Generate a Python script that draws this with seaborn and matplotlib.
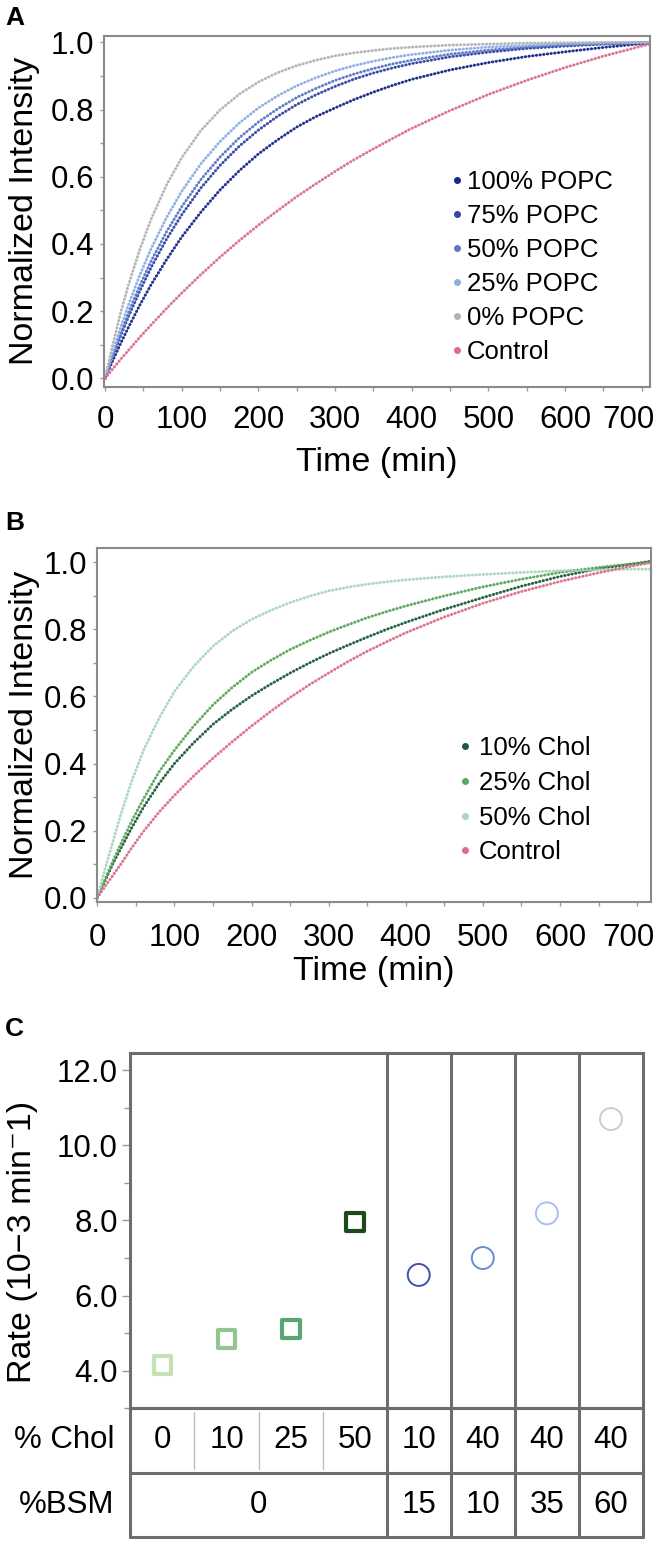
import matplotlib
matplotlib.use("Agg")
import matplotlib.pyplot as plt
import seaborn as sns
import pandas as pd
from matplotlib.lines import Line2D
from matplotlib.ticker import MultipleLocator, FormatStrFormatter, FuncFormatter

# ---- data ----
time_min = [0, 10, 20, 30, 45, 60, 80, 100, 125, 150, 175, 200, 225, 250, 275, 300,
            325, 350, 375, 400, 450, 500, 550, 600, 650, 700, 720]

# panel A: POPC series
popc_labels = ["100% POPC", "75% POPC", "50% POPC", "25% POPC", "0% POPC", "Control"]
popc_100 = [0, .053, .103, .150, .217, .279, .353, .421, .495, .561, .618, .668, .710, .748,
            .779, .805, .830, .852, .872, .890, .918, .940, .958, .972, .985, .996, 1.0]
popc_75 = [0, .064, .125, .181, .259, .330, .414, .487, .567, .634, .691, .739, .780, .815,
           .844, .869, .891, .909, .924, .937, .957, .971, .982, .989, .995, .999, 1.0]
popc_50 = [0, .069, .133, .193, .275, .349, .436, .511, .592, .659, .716, .763, .802, .836,
           .863, .887, .906, .922, .936, .947, .965, .977, .986, .992, .996, .999, 1.0]
popc_25 = [0, .078, .150, .216, .306, .386, .478, .557, .639, .705, .760, .805, .841, .871,
           .895, .915, .931, .944, .955, .964, .977, .986, .991, .995, .998, 1.0, 1.0]
popc_0 = [0, .101, .193, .275, .382, .474, .575, .657, .738, .799, .846, .882, .910, .931,
          .947, .960, .969, .976, .982, .986, .992, .995, .998, .999, 1.0, 1.0, 1.0]
control_a = [0, .028, .056, .082, .122, .159, .208, .254, .309, .361, .410, .456, .499, .541,
             .579, .616, .651, .683, .714, .744, .797, .845, .887, .925, .959, .989, 1.0]
popc_colors = ["#18278a", "#3346a6", "#5a78c6", "#8eaee6", "#b4b4b4", "#dc6f8c"]

# panel B: cholesterol series
chol_series_labels = ["10% Chol", "25% Chol", "50% Chol", "Control"]
chol_10 = [0, .050, .100, .145, .210, .270, .340, .400, .462, .517, .562, .602, .637, .670,
           .700, .728, .753, .777, .800, .821, .860, .895, .929, .958, .981, .997, 1.004]
chol_25 = [0, .055, .108, .158, .230, .295, .375, .440, .512, .575, .627, .672, .708, .740,
           .767, .792, .814, .835, .853, .870, .900, .927, .950, .970, .985, .997, 1.003]
chol_50 = [0, .085, .165, .245, .350, .440, .535, .615, .690, .750, .795, .830, .857, .880,
           .899, .915, .926, .935, .942, .948, .957, .964, .970, .975, .978, .980, .980]
control_b = [0, .033, .066, .098, .150, .198, .255, .305, .363, .416, .465, .512, .556, .597,
             .635, .670, .704, .735, .763, .790, .837, .878, .913, .943, .969, .992, 1.0]
chol_colors = ["#1f5b3b", "#5ea65c", "#a9d6c1", "#dc6f8c"]

# panel C: rates
rate_values = [4.16, 4.84, 5.11, 7.95, 6.55, 7.0, 8.19, 10.7]
chol_pct = ["0", "10", "25", "50", "10", "40", "40", "40"]
bsm_pct = ["0", "15", "10", "35", "60"]
bsm_pos = [1.5, 4, 5, 6, 7]
rate_colors = ["#c6e2b5", "#92c592", "#5aa673", "#1d4a1d",
               "#3f50b0", "#6b8bd8", "#a8c2f0", "#cccccc"]

# ---- style ----
sns.set_theme(style="ticks")
plt.rcParams["font.family"] = ["Liberation Sans", "DejaVu Sans"]
plt.rcParams.update({"text.color": "black", "axes.labelcolor": "black",
                     "xtick.labelcolor": "black", "ytick.labelcolor": "black"})
TICK = 22.5
LAB = 24.5
LEG = 18.5
SPINE = "#8a8a8a"
BOX = "#6d6d6d"

fig = plt.figure(figsize=(6.64, 15.5), dpi=100)


def long_df(series, labels):
    rows = []
    for lab, ys in zip(labels, series):
        for t, y in zip(time_min, ys):
            rows.append((t, y, lab))
    return pd.DataFrame(rows, columns=["Time", "Intensity", "Sample"])


def curve_panel(ax, df, labels, colors, xlim, ylim, xpad, last_shift):
    pal = dict(zip(labels, colors))
    sns.lineplot(data=df, x="Time", y="Intensity", hue="Sample", hue_order=labels,
                 palette=pal, ax=ax, legend=False, linewidth=0.9, alpha=0.4,
                 estimator=None)
    n0 = len(ax.lines)
    sns.lineplot(data=df, x="Time", y="Intensity", hue="Sample", hue_order=labels,
                 palette=pal, ax=ax, legend=False, linewidth=2.2, estimator=None)
    for ln in ax.lines[n0:]:
        ln.set_linestyle((0, (0.01, 1.2)))
        ln.set_dash_capstyle("round")
        ln.set_alpha(0.95)
    ax.set_xlim(*xlim)
    ax.set_ylim(*ylim)
    ax.xaxis.set_major_locator(MultipleLocator(100))
    ax.xaxis.set_minor_locator(MultipleLocator(50))
    # the last label (700) is nudged left in the original, drawn separately below
    ax.xaxis.set_major_formatter(FuncFormatter(lambda v, p: "" if v >= 700 else "%d" % v))
    ax.yaxis.set_major_locator(MultipleLocator(0.2))
    ax.yaxis.set_minor_locator(MultipleLocator(0.1))
    ax.yaxis.set_major_formatter(FormatStrFormatter("%.1f"))
    ax.tick_params(which="both", direction="out", length=3, width=1, color="#999999",
                   labelsize=TICK)
    ax.tick_params(axis="x", which="major", pad=xpad)
    ax.tick_params(axis="y", which="major", pad=4)
    ax.annotate("700", xy=(700, 0), xycoords=("data", "axes fraction"),
                xytext=(last_shift, -(3 + xpad)), textcoords="offset points",
                ha="center", va="top", fontsize=TICK)
    for s in ax.spines.values():
        s.set_color(SPINE)
        s.set_linewidth(1.5)
    ax.set_xlabel("Time (min)", fontsize=LAB)
    ax.set_ylabel("Normalized Intensity", fontsize=LAB)


# ---- panel A ----
axA = fig.add_axes([104 / 664, 1 - 386.7 / 1550, 546 / 664, 351 / 1550])
dfA = long_df([popc_100, popc_75, popc_50, popc_25, popc_0, control_a], popc_labels)
curve_panel(axA, dfA, popc_labels, popc_colors, (-1.5, 711), (-0.025, 1.02), 10, -9.5)
axA.xaxis.set_label_coords(0.5, -0.171)
axA.yaxis.set_label_coords(-0.117, 0.5)
handlesA = [Line2D([0], [0], marker="o", ls="", color=c, markersize=4) for c in popc_colors]
axA.legend(handlesA, popc_labels, loc="upper left", bbox_to_anchor=(0.637, 0.618),
           frameon=False, fontsize=LEG, handlelength=0.4, handletextpad=0.2,
           labelspacing=0.39, borderpad=0, borderaxespad=0)

# ---- panel B ----
axB = fig.add_axes([96.7 / 664, 1 - 902 / 1550, 554.3 / 664, 353.7 / 1550])
dfB = long_df([chol_10, chol_25, chol_50, control_b], chol_series_labels)
curve_panel(axB, dfB, chol_series_labels, chol_colors, (-0.8, 718), (-0.013, 1.042), 12, -6)
axB.xaxis.set_label_coords(0.5, -0.152)
axB.yaxis.set_label_coords(-0.102, 0.5)
handlesB = [Line2D([0], [0], marker="o", ls="", color=c, markersize=4) for c in chol_colors]
axB.legend(handlesB, chol_series_labels, loc="upper left", bbox_to_anchor=(0.655, 0.469),
           frameon=False, fontsize=LEG, handlelength=0.4, handletextpad=0.35,
           labelspacing=0.42, borderpad=0, borderaxespad=0)

# ---- panel C ----
axC = fig.add_axes([130.4 / 664, 1 - 1408.3 / 1550, 512.6 / 664, 355 / 1550])
keys = ["r%d" % i for i in range(len(rate_values))]
dfC = pd.DataFrame({"pos": list(range(len(rate_values))), "rate": rate_values, "key": keys})
palC = dict(zip(keys, rate_colors))
sns.scatterplot(data=dfC.iloc[:4], x="pos", y="rate", hue="key", palette=palC,
                marker="s", s=165, ax=axC, legend=False)
sq = axC.collections[-1]
sns.scatterplot(data=dfC.iloc[4:], x="pos", y="rate", hue="key", palette=palC,
                marker="o", s=250, ax=axC, legend=False)
ci = axC.collections[-1]
for coll, lw in ((sq, 3.0), (ci, 1.4)):
    fc = coll.get_facecolors()
    coll.set_edgecolors(fc)
    coll.set_facecolors("none")
    coll.set_linewidths(lw)

axC.set_xlim(-0.5, 7.5)
axC.set_ylim(3.0, 12.45)
axC.set_xticks([])
axC.yaxis.set_major_locator(MultipleLocator(2))
axC.yaxis.set_minor_locator(MultipleLocator(1))
axC.yaxis.set_major_formatter(FormatStrFormatter("%.1f"))
axC.tick_params(axis="y", which="major", length=6, width=1, color="#999999",
                labelsize=TICK, pad=3)
axC.tick_params(axis="y", which="minor", length=4, width=1, color="#999999")
axC.set_xlabel("")
axC.set_ylabel("Rate (10\u22123 min\u207b1)", fontsize=LAB)
axC.yaxis.set_label_coords(-0.18, 0.47)
for s in axC.spines.values():
    s.set_color(BOX)
    s.set_linewidth(2.2)
for xv in [3.5, 4.5, 5.5, 6.5]:
    axC.axvline(xv, color=BOX, lw=2.2)

# table under panel C
tab = fig.add_axes([130.4 / 664, 1 - 1536.7 / 1550, 512.6 / 664, 128.4 / 1550])
tab.set_xlim(-0.5, 7.5)
tab.set_ylim(0, 2)
tab.axis("off")
for yv in [0, 1, 2]:
    tab.axhline(yv, color=BOX, lw=2.2, clip_on=False)
for xv in [-0.5, 3.5, 4.5, 5.5, 6.5, 7.5]:
    tab.axvline(xv, color=BOX, lw=2.2, clip_on=False)
for xv in [0.5, 1.5, 2.5]:
    tab.axvline(xv, ymin=0.53, ymax=0.97, color="#bdbdbd", lw=1)
for i, lab in enumerate(chol_pct):
    tab.text(i, 1.5, lab, ha="center", va="center", fontsize=TICK)
for xv, lab in zip(bsm_pos, bsm_pct):
    tab.text(xv, 0.5, lab, ha="center", va="center", fontsize=TICK)
tab.text(-0.75, 1.5, "% Chol", ha="right", va="center", fontsize=TICK)
tab.text(-0.75, 0.5, "%BSM", ha="right", va="center", fontsize=TICK)

# panel letters
for letter, ytop in (("A", 6), ("B", 511), ("C", 1017)):
    fig.text(5 / 664, 1 - ytop / 1550, letter, fontsize=19, fontweight="bold",
             va="top", ha="left")

fig.savefig("out.png", dpi=100)
